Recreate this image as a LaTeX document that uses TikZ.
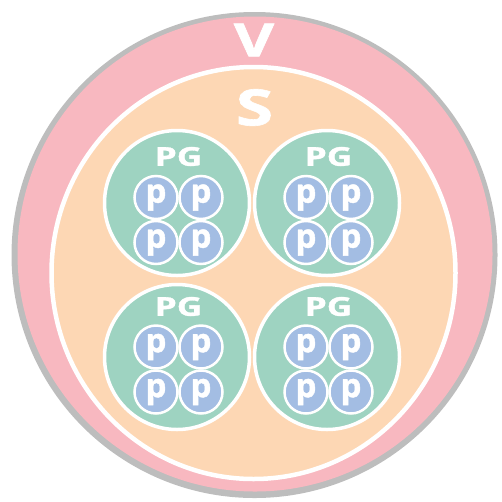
\documentclass[tikz,border=0pt]{standalone}
\usepackage{fontspec}
\setmainfont{Open Sans}[BoldFeatures={FakeBold=1.2}]
\usetikzlibrary{shapes.geometric}
\definecolor{ringgray}{HTML}{BDBDBD}
\definecolor{vpink}{HTML}{F8B8C0}
\definecolor{speach}{HTML}{FDD7B4}
\definecolor{pggreen}{HTML}{9ED3C1}
\definecolor{pblue}{HTML}{A3BDE3}
\tikzset{
  lbl/.style={text=white,inner sep=0pt,font=\bfseries},
  pgcirc/.style={circle,inner sep=0pt,minimum size=145pt,fill=pggreen,draw=white,line width=3.5pt},
  pcirc/.style={circle,inner sep=0pt,minimum size=43pt,fill=pblue,draw=white,line width=2.5pt},
  plbl/.style={lbl,font=\fontsize{33}{33}\selectfont\bfseries},
  pglbl/.style={lbl,font=\fontsize{26}{26}\selectfont\bfseries},
}
\newcommand{\stretchtxt}[1]{\scalebox{1.35}[1]{#1}}
\begin{document}
\begin{tikzpicture}[x=1pt,y=-1pt]
\useasboundingbox (0,0) rectangle (502,501);
\node[circle,inner sep=0pt,minimum size=486pt,fill=ringgray] (outer) at (254.5,255) {};
\node[circle,inner sep=0pt,minimum size=475pt,fill=vpink] (vring) at (255,254) {};
\node[ellipse,inner sep=0pt,minimum width=404pt,minimum height=412pt,fill=speach,draw=white,line width=4.5pt] (sarea) at (253.5,273) {};
\node[lbl,font=\fontsize{46}{46}\selectfont\bfseries] (vlabel) at (254,40) {\stretchtxt{V}};
\node[lbl,font=\fontsize{50}{50}\selectfont\bfseries] (slabel) at (254.5,107.5) {\stretchtxt{S}};
\foreach \cx/\cy/\lx/\ly/\pa/\pb/\nm in {177/203/178.5/156.5/197.5/242.5/tl, 327/203/328.5/156.5/197.5/242.5/tr, 177/357/178.5/306.5/347/392/bl, 327/357/328.5/306.5/347/392/br}{
  \node[pgcirc] (pg\nm) at (\cx,\cy) {};
  \node[pglbl] (pgl\nm) at (\lx,\ly) {\stretchtxt{PG}};
  \node[pcirc] (p1\nm) at (\lx-22.5,\pa) {};
  \node[pcirc] (p2\nm) at (\lx+22.5,\pa) {};
  \node[pcirc] (p3\nm) at (\lx-22.5,\pb) {};
  \node[pcirc] (p4\nm) at (\lx+22.5,\pb) {};
  \node[plbl] (q1\nm) at (p1\nm) {p};
  \node[plbl] (q2\nm) at (p2\nm) {p};
  \node[plbl] (q3\nm) at (p3\nm) {p};
  \node[plbl] (q4\nm) at (p4\nm) {p};
}
\end{tikzpicture}
\end{document}
